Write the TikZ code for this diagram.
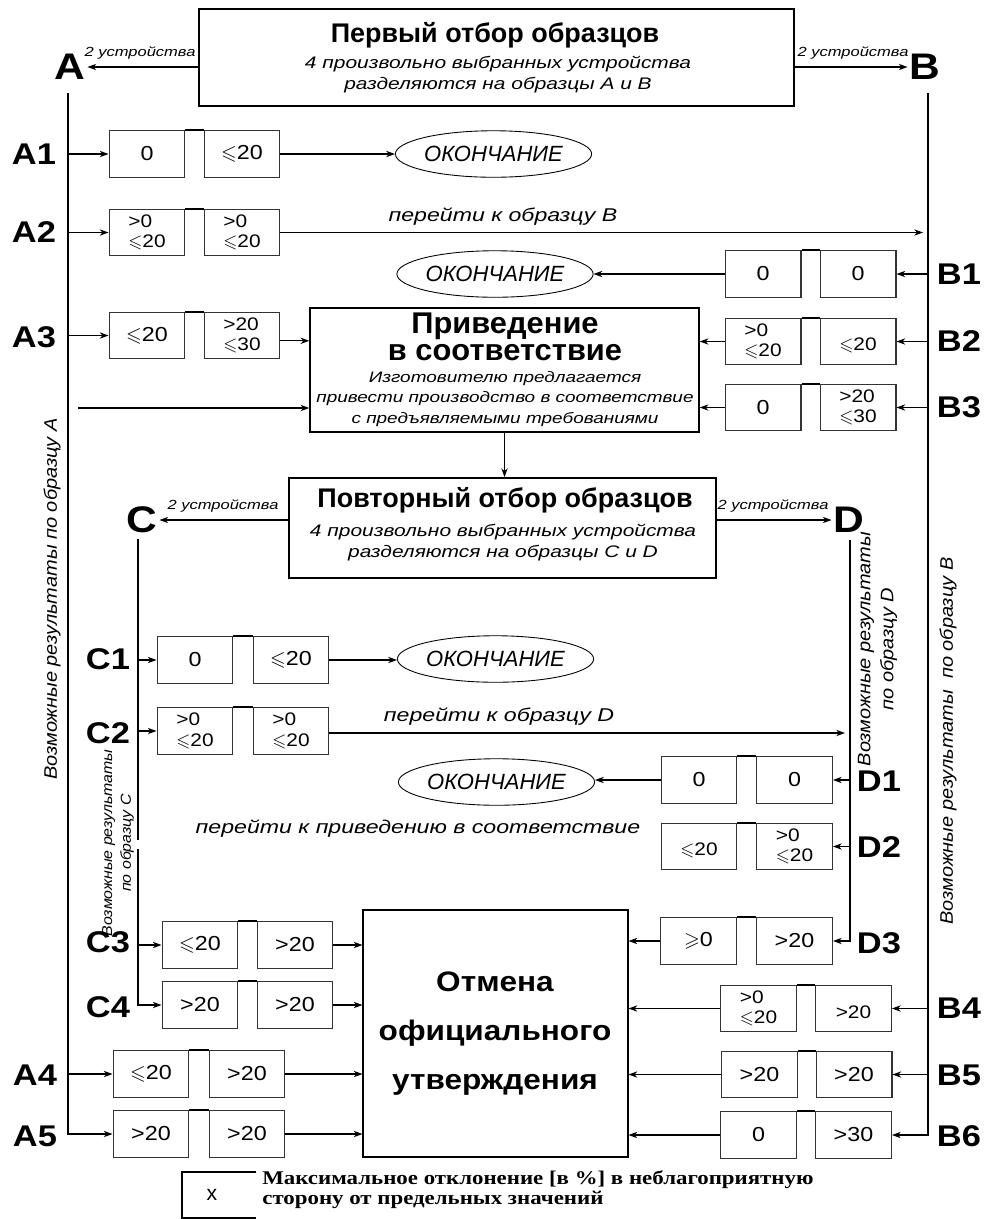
\documentclass[tikz,border=0pt]{standalone}
\usepackage{fix-cm}
\usepackage{amssymb}
\usepackage{fontspec}
\setmainfont{Liberation Sans}
\newfontfamily\itf[FakeStretch=1.25]{Liberation Sans}
\newfontfamily\itg[FakeStretch=1.1]{Liberation Sans}
\newfontfamily\bxf[FakeStretch=1.15]{Liberation Sans}
\newfontfamily\obf[FakeStretch=1.12]{Liberation Sans}
\newfontfamily\prf[FakeStretch=1.03]{Liberation Sans}
\newfontfamily\serf[FakeStretch=1.18]{Liberation Serif}
\usetikzlibrary{arrows.meta,shapes.geometric}
\newcommand\fs[2]{\fontsize{#1}{#2}\selectfont}
\newcommand\IT{\itf\itshape}
\newcommand\Le{\ensuremath{\leqslant}}
\newcommand\Ge{\ensuremath{\geqslant}}
\begin{document}
\begin{tikzpicture}[x=0.5676pt,y=-0.5676pt,
  >={Stealth[length=5pt,width=3.6pt]},
  vb/.style={draw=black!80,line width=0.6pt,minimum width=43.1pt,minimum height=26.4pt,inner sep=0pt,align=left,font=\bxf\fs{11.5}{12}},
  vbt/.style={vb,font=\bxf\fs{10.3}{11.6}},
  pl/.style={line width=1.2pt},
  arr/.style={->,line width=0.6pt},
  ell/.style={ellipse,draw,line width=0.5pt,minimum width=98.5pt,minimum height=26.4pt,inner sep=0pt,font=\fs{12.5}{14}\itshape},
  big/.style={font=\bxf\fs{21}{22}\bfseries,inner sep=1pt},
  rowl/.style={font=\bxf\fs{17}{18}\bfseries,inner sep=0pt},
  dev/.style={font=\IT\fs{7.5}{8},inner sep=1pt},
  sub/.style={font=\IT\fs{9.5}{11},inner sep=0pt},
  subs/.style={font=\IT\fs{8.6}{11.6},inner sep=0pt,align=center},
  hdr/.style={font=\fs{15.3}{18}\bfseries,inner sep=0pt},
  go/.style={font=\IT\fs{10.5}{12},inner sep=0pt},
  mainline/.style={line width=1.2pt},
  rot/.style={rotate=90,font=\itg\itshape\fs{10.3}{13},inner sep=0pt,align=center},
  rots/.style={rotate=90,font=\itg\itshape\fs{8.2}{10.6},inner sep=0pt,align=center},
  otm/.style={font=\obf\fs{16}{16}\bfseries,inner sep=0pt}
]
\useasboundingbox (0,0) rectangle (986,1219);

% ---------- top box ----------
\node[draw,line width=1.3pt,minimum width=337.7pt,minimum height=55pt,inner sep=0pt] (top) at (496.5,57.5) {};
\node[hdr] (t1) at (495,35) {Первый отбор образцов};
\node[sub] (t2) at (498,64) {4 произвольно выбранных устройства};
\node[sub] (t3) at (498,85) {разделяются на образцы A и B};

\node[big] (A) at (70,67) {A};
\node[big] (B) at (925,67) {B};
\draw[arr] (top.west |- A) -- (A.east);
\draw[arr] (top.east |- B) -- (B.west);
\node[dev] (dA) at (140,53) {2 устройства};
\node[dev] (dB) at (853,53) {2 устройства};

\coordinate (Atop) at (68,93);
\coordinate (Btop) at (928,93);

% ---------- A1 ----------
\node[rowl] (lA1) at (34,154) {A1};
\node[vb] (a1l) at (147,154) {0};
\node[vb] (a1r) at (242,154) {\Le20};
\draw[pl] (a1l.north east) -- (a1r.north west);
\node[ell] (e1) at (493.5,154) {ОКОНЧАНИЕ};
\draw[arr] (Atop |- a1l.west) -- (a1l.west);
\draw[arr] (a1r.east) -- (e1.west);

% ---------- A2 ----------
\node[rowl] (lA2) at (34,232.5) {A2};
\node[vbt] (a2l) at (147,232.5) {>0\\\Le20};
\node[vbt] (a2r) at (242,232.5) {>0\\\Le20};
\draw[pl] (a2l.north east) -- (a2r.north west);
\coordinate (A2end) at (923,232.5);
\draw[arr] (Atop |- a2l.west) -- (a2l.west);
\draw[arr] (a2r.east) -- (A2end);
\node[go] (gB) at (503,217) {перейти к образцу B};

% ---------- B1 ----------
\node[rowl] (lB1) at (959,274) {B1};
\node[vb] (b1l) at (763,274) {0};
\node[vb] (b1r) at (858,274) {0};
\draw[pl] (b1l.north east) -- (b1r.north west);
\node[ell] (e2) at (495,274) {ОКОНЧАНИЕ};
\draw[arr] (Btop |- b1r.east) -- (b1r.east);
\draw[arr] (b1l.west) -- (e2.east);

% ---------- Privedenie box ----------
\node[draw,line width=0.8pt,minimum width=220.8pt,minimum height=70.4pt,inner sep=0pt] (pri) at (504.5,370) {};
\node[font=\prf\fs{17}{15.4}\bfseries,inner sep=0pt,align=center] (p1) at (505,337) {Приведение\\в соответствие};
\node[subs] (p3) at (505,399) {Изготовителю предлагается\\привести производство в соответствие\\с предъявляемыми требованиями};

% ---------- A3 ----------
\node[rowl] (lA3) at (34,337) {A3};
\node[vb] (a3l) at (147,335.5) {\Le20};
\node[vbt] (a3r) at (242,335.5) {>20\\\Le30};
\draw[pl] (a3l.north east) -- (a3r.north west);
\draw[arr] (Atop |- a3l.west) -- (a3l.west);
\draw[arr] ([yshift=-3pt]a3r.east) -- ([yshift=-3pt]a3r.east -| pri.west);
\coordinate (free) at (78,408);
\draw[arr] (free) -- (free -| pri.west);

% ---------- B2 ----------
\node[rowl] (lB2) at (959,341) {B2};
\node[vbt] (b2l) at (763,341.5) {>0\\\Le20};
\node[vbt] (b2r) at (858,341.5) {\mbox{}\\\Le20};
\draw[pl] (b2l.north east) -- (b2r.north west);
\draw[arr] (Btop |- b2r.east) -- (b2r.east);
\draw[arr] (b2l.west) -- (b2l.west -| pri.east);

% ---------- B3 ----------
\node[rowl] (lB3) at (959,407) {B3};
\node[vb] (b3l) at (763,407.5) {0};
\node[vbt] (b3r) at (858,407.5) {>20\\\Le30};
\draw[pl] (b3l.north east) -- (b3r.north west);
\draw[arr] (Btop |- b3r.east) -- (b3r.east);
\draw[arr] (b3l.west) -- (b3l.west -| pri.east);

% ---------- second sampling ----------
\node[draw,line width=1pt,minimum width=242.4pt,minimum height=56.8pt,inner sep=0pt] (pov) at (502.5,528) {};
\node[hdr] (q1) at (505,500) {Повторный отбор образцов};
\node[sub] (q2) at (503,532) {4 произвольно выбранных устройства};
\node[sub] (q3) at (503,553) {разделяются на образцы C и D};
\draw[arr] (pri.south) -- (pri.south |- pov.north);

\node[big] (C) at (142,520) {C};
\node[big] (D) at (849,520) {D};
\draw[arr] (pov.west |- C) -- (C.east);
\draw[arr] (pov.east |- D) -- (D.west);
\node[dev] (dC) at (223,506) {2 устройства};
\node[dev] (dD) at (773,506) {2 устройства};

\coordinate (Ctop) at (138,539);
\coordinate (Cgap1) at (138,840);
\coordinate (Cgap2) at (138,849);
\coordinate (Dtop) at (850,540);

% ---------- C1 ----------
\node[rowl] (lC1) at (108,659) {C1};
\node[vb] (c1l) at (195,660) {0};
\node[vb] (c1r) at (291,660) {\Le20};
\draw[pl] (c1l.north east) -- (c1r.north west);
\node[ell] (e3) at (495.5,659) {ОКОНЧАНИЕ};
\draw[arr] (Ctop |- c1l.west) -- (c1l.west);
\draw[arr] (c1r.east) -- (c1r.east -| e3.west);

% ---------- C2 ----------
\node[rowl] (lC2) at (108,733) {C2};
\node[vbt] (c2l) at (195,731) {>0\\\Le20};
\node[vbt] (c2r) at (291,731) {>0\\\Le20};
\draw[pl] (c2l.north east) -- (c2r.north west);
\coordinate (C2end) at (845,733);
\draw[arr] (Ctop |- c2l.west) -- (c2l.west);
\draw[arr] (c2r.east |- C2end) -- (C2end);
\node[go] (gD) at (499,717) {перейти к образцу D};

% ---------- D1 ----------
\node[rowl] (lD1) at (879,781) {D1};
\node[vb] (d1l) at (699,780) {0};
\node[vb] (d1r) at (794.5,780) {0};
\draw[pl] (d1l.north east) -- (d1r.north west);
\node[ell] (e4) at (496.5,782) {ОКОНЧАНИЕ};
\draw[arr] (Dtop |- d1r.east) -- (d1r.east);
\draw[arr] (d1l.west) -- (d1l.west -| e4.east);

% ---------- D2 ----------
\node[rowl] (lD2) at (879,847) {D2};
\node[vbt] (d2l) at (699,846.5) {\mbox{}\\\Le20};
\node[vbt] (d2r) at (794.5,846.5) {>0\\\Le20};
\draw[pl] (d2l.north east) -- (d2r.north west);
\draw[arr] (Dtop |- d2r.east) -- (d2r.east);
\node[go] (gP) at (418,829) {перейти к приведению в соответствие};

% ---------- Otmena box ----------
\node[draw,line width=0.6pt,minimum width=150.4pt,minimum height=140.2pt,inner sep=0pt] (otm) at (495.5,1033.5) {};
\node[otm] (o1) at (495,982) {Отмена};
\node[otm] (o2) at (495,1033) {официального};
\node[otm] (o3) at (495,1085) {утверждения};

% ---------- D3 ----------
\node[rowl] (lD3) at (879,943) {D3};
\node[vb] (d3l) at (698.5,941) {\Ge0};
\node[vb] (d3r) at (794.5,941) {>20};
\draw[pl] (d3l.north east) -- (d3r.north west);
\draw[arr] (d3l.west) -- (d3l.west -| otm.east);
\draw[mainline] (Dtop) |- ([xshift=6pt]d3r.east);
\draw[arr] ([xshift=6pt]d3r.east) -- (d3r.east);

% ---------- C3 / C4 ----------
\node[rowl] (lC3) at (108,942) {C3};
\node[vb] (c3l) at (200,945) {\Le20};
\node[vb] (c3r) at (295,945) {>20};
\draw[pl] (c3l.north east) -- (c3r.north west);
\draw[arr] (Ctop |- c3l.west) -- (c3l.west);
\draw[arr] (c3r.east) -- (c3r.east -| otm.west);

\node[rowl] (lC4) at (108,1007) {C4};
\node[vb] (c4l) at (200,1005) {>20};
\node[vb] (c4r) at (295,1005) {>20};
\draw[pl] (c4l.north east) -- (c4r.north west);
\draw[line width=0.6pt] (Ctop) -- (Cgap1);
\draw[arr] (Cgap2) |- (c4l.west);
\draw[arr] (c4r.east) -- (c4r.east -| otm.west);

% ---------- A4 / A5 ----------
\node[rowl] (lA4) at (35,1075) {A4};
\node[vb] (a4l) at (151,1074) {\Le20};
\node[vb] (a4r) at (247,1074) {>20};
\draw[pl] (a4l.north east) -- (a4r.north west);
\draw[arr] (Atop |- a4l.west) -- (a4l.west);
\draw[arr] (a4r.east) -- (a4r.east -| otm.west);

\node[rowl] (lA5) at (35,1136) {A5};
\node[vb] (a5l) at (151,1134) {>20};
\node[vb] (a5r) at (247,1134) {>20};
\draw[pl] (a5l.north east) -- (a5r.north west);
\draw[mainline] (Atop) |- ([xshift=-6pt]a5l.west);
\draw[arr] ([xshift=-6pt]a5l.west) -- (a5l.west);
\draw[arr] (a5r.east) -- (a5r.east -| otm.west);

% ---------- B4 / B5 / B6 ----------
\node[rowl] (lB4) at (959,1008) {B4};
\node[vbt] (b4l) at (758.5,1008.5) {>0\\\Le20};
\node[vbt] (b4r) at (853.5,1008.5) {\mbox{}\\>20};
\draw[pl] (b4l.north east) -- (b4r.north west);
\draw[arr] (Btop |- b4r.east) -- (b4r.east);
\draw[arr] (b4l.west) -- (b4l.west -| otm.east);

\node[rowl] (lB5) at (959,1075) {B5};
\node[vb] (b5l) at (759.5,1074.5) {>20};
\node[vb] (b5r) at (854,1074.5) {>20};
\draw[pl] (b5l.north east) -- (b5r.north west);
\draw[arr] (Btop |- b5r.east) -- (b5r.east);
\draw[arr] (b5l.west) -- (b5l.west -| otm.east);

\node[rowl] (lB6) at (959,1136) {B6};
\node[vb] (b6l) at (758.5,1135) {0};
\node[vb] (b6r) at (853.5,1135) {>30};
\draw[pl] (b6l.north east) -- (b6r.north west);
\draw[mainline] (Btop) |- ([xshift=6pt]b6r.east);
\draw[arr] ([xshift=6pt]b6r.east) -- (b6r.east);
\draw[arr] (b6l.west) -- (b6l.west -| otm.east);

% ---------- rotated labels ----------
\node[rot] (rA) at (52,599) {Возможные результаты по образцу A};
\node[rot] (rB) at (948,741) {Возможные результаты\ \ по образцу B};
\node[rot] (rD) at (877.5,649) {Возможные результаты\\по образцу D};
\node[rots] (rC) at (118,843) {Возможные результаты\\по образцу C};

% ---------- legend ----------
\coordinate (lg1) at (256,1172);
\coordinate (lg2) at (182,1172);
\coordinate (lg3) at (182,1218);
\coordinate (lg4) at (256,1218);
\draw[line width=0.6pt] (lg1) -- (lg2) -- (lg3) -- (lg4);
\node[font=\fs{12}{13}] (lx) at (212,1195) {x};
\node[anchor=west,align=left,font=\serf\bfseries\fs{11}{11.3},inner sep=0pt] (lt) at (262,1190) {Максимальное отклонение [в \%] в неблагоприятную\\сторону от предельных значений};
\end{tikzpicture}
\end{document}
